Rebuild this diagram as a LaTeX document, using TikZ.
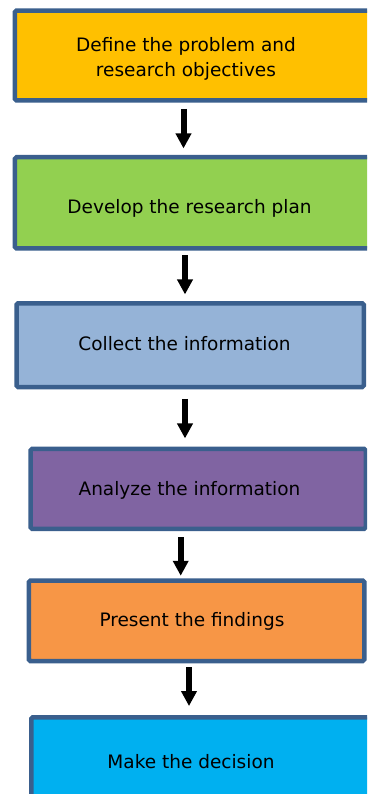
\documentclass[tikz,border=0pt]{standalone}
\usepackage{fontspec}
\setmainfont{DejaVu Sans}
\usepackage{xcolor}
\usepackage{tikz}
\usetikzlibrary{arrows.meta,positioning}
\definecolor{stepedge}{HTML}{3A5F8D}
\definecolor{stepgold}{HTML}{FFC000}
\definecolor{stepgreen}{HTML}{92D050}
\definecolor{stepsteel}{HTML}{95B3D7}
\definecolor{steppurple}{HTML}{8064A2}
\definecolor{steporange}{HTML}{F79646}
\definecolor{stepcyan}{HTML}{00B0F0}
\tikzset{
  stepbox/.style={draw=stepedge,line width=4.5pt,rounded corners=1.5pt,inner sep=0pt},
  steptext/.style={align=center,text=black,inner sep=0pt,font=\fontsize{18.5}{25}\selectfont},
  flow/.style={-{Triangle[width=15pt,length=15pt]},line width=6pt,black}
}
\begin{document}
\begin{tikzpicture}[x=1pt,y=-1pt]
  \clip (0,0) rectangle (367,794);
  \fill[white] (0,0) rectangle (367,794);
  % boxes
  \node[stepbox,fill=stepgold,minimum width=382.8pt,minimum height=89.9pt] (define) at (206.35,55.5) {};
  \node[stepbox,fill=stepgreen,minimum width=382.8pt,minimum height=91.2pt] (develop) at (206.35,202.85) {};
  \node[stepbox,fill=stepsteel,minimum width=347.2pt,minimum height=83.8pt] (collect) at (190.15,345.15) {};
  \node[stepbox,fill=steppurple,minimum width=335.2pt,minimum height=79.8pt] (analyze) at (198.15,488.85) {};
  \node[stepbox,fill=steporange,minimum width=335.3pt,minimum height=80.5pt] (present) at (196.6,620.8) {};
  \node[stepbox,fill=stepcyan,minimum width=366.5pt,minimum height=80.5pt] (decide) at (214.5,757.5) {};
  % labels
  \node[steptext] (defineT) at (186,59) {Define the problem and\\research objectives};
  \node[steptext] (developT) at (189.5,208) {Develop the research plan};
  \node[steptext] (collectT) at (184.5,344) {Collect the information};
  \node[steptext] (analyzeT) at (189.5,490) {Analyze the information};
  \node[steptext] (presentT) at (192,621.7) {Present the findings};
  \node[steptext] (decideT) at (191,761.7) {Make the decision};
  % arrows
  \draw[flow,shorten <=6.25pt,shorten >=6.55pt] (183.5,0 |- define.south) -- (183.5,0 |- develop.north);
  \draw[flow,shorten <=4.55pt,shorten >=6.55pt] (185,0 |- develop.south) -- (185,0 |- collect.north);
  \draw[flow,shorten <=9.65pt,shorten >=8.25pt] (185,0 |- collect.south) -- (185,0 |- analyze.north);
  \draw[flow,shorten <=6.25pt,shorten >=2.55pt] (180.7,0 |- analyze.south) -- (180.7,0 |- present.north);
  \draw[flow,shorten <=3.95pt,shorten >=8.95pt] (189,0 |- present.south) -- (189,0 |- decide.north);
\end{tikzpicture}
\end{document}
